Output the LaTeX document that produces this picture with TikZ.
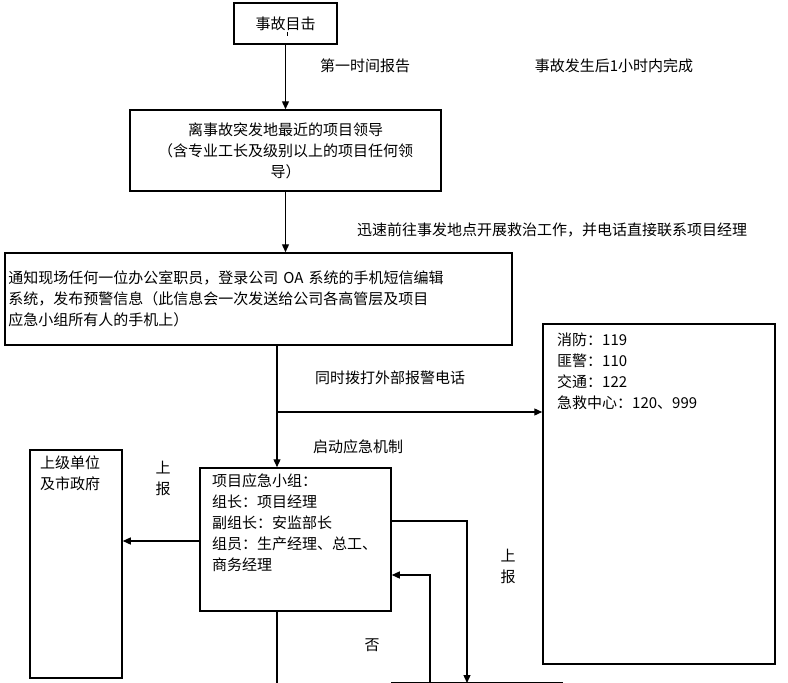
\documentclass[tikz,border=0pt]{standalone}
\usepackage{fontspec}
\setmainfont{Noto Sans CJK SC}
\usetikzlibrary{arrows.meta}
\begin{document}
\begin{tikzpicture}[x=1pt,y=-1pt,
  box/.style={draw,line width=1.5pt},
  ln/.style={line width=1.3pt},
  ar/.style={line width=1.3pt,-{Triangle[length=8pt,width=7pt]}},
  lab/.style={font=\fontsize{15}{21}\selectfont,inner sep=0pt},
  every node/.style={font=\fontsize{15}{21}\selectfont}]
\useasboundingbox (0,0) rectangle (788,683);
\node[box,minimum width=103,minimum height=41] (A) at (285.5,23.5) {事故目击};
\node[box,minimum width=311,minimum height=81,align=center,text width=300] (B) at (285.5,150.5) {离事故突发地最近的项目领导\\（含专业工长及级别以上的项目任何领\\导）};
\node[box,minimum width=507,minimum height=92,align=left,text width=500] (C) at (258.5,299) {通知现场任何一位办公室职员，登录公司 OA 系统的手机短信编辑\\系统，发布预警信息（此信息会一次发送给公司各高管层及项目\\应急小组所有人的手机上）};
\node[box,minimum width=232,minimum height=340] (D) at (659,494) {};
\node[lab,anchor=north west,align=left] (Dt) at (557,333) {消防：119\\匪警：110\\交通：122\\急救中心：120、999};
\node[box,minimum width=92,minimum height=228] (E) at (76,564) {};
\node[lab,anchor=north west,align=left] (Et) at (40,456) {上级单位\\及市政府};
\node[box,minimum width=191,minimum height=143] (F) at (295.5,539.5) {};
\node[lab,anchor=north west,align=left] (Ft) at (212,474) {项目应急小组：\\组长：项目经理\\副组长：安监部长\\组员：生产经理、总工、\\商务经理};
\coordinate (br) at (277,412);
\coordinate (p1) at (467,521);
\coordinate (p2) at (430,683);
\coordinate (p3) at (430,575);
\coordinate (b1) at (391,683);
\coordinate (b2) at (563,683);
\draw[ar] (A.south) -- (B.north);
\draw[ar] (B.south) -- (C.north -| B.south);
\draw[ar] (C.south -| br) -- (F.north -| br);
\draw[ar] (br) -- (D.west |- br);
\draw[ar] (F.west |- 0,541) -- (E.east |- 0,541);
\draw[ar] (F.east |- p1) -- (p1) -- (p1 |- b1);
\draw[ar] (p2) -- (p3) -- (F.east |- p3);
\draw[ln] (F.south -| br) -- (br |- b1);
\draw[ln] (b1) -- (b2);
\draw[line width=0.6pt] (287,32) -- (287,36);
\node[lab] (l1) at (365,66) {第一时间报告};
\node[lab] (l2) at (614,66) {事故发生后1小时内完成};
\node[lab] (l3) at (552,230) {迅速前往事发地点开展救治工作，并电话直接联系项目经理};
\node[lab] (l4) at (390,378) {同时拨打外部报警电话};
\node[lab] (l5) at (358,447) {启动应急机制};
\node[lab,align=center] (l6) at (163,478) {上\\报};
\node[lab,align=center] (l7) at (508,566) {上\\报};
\node[lab] (l8) at (372,645) {否};
\end{tikzpicture}
\end{document}
